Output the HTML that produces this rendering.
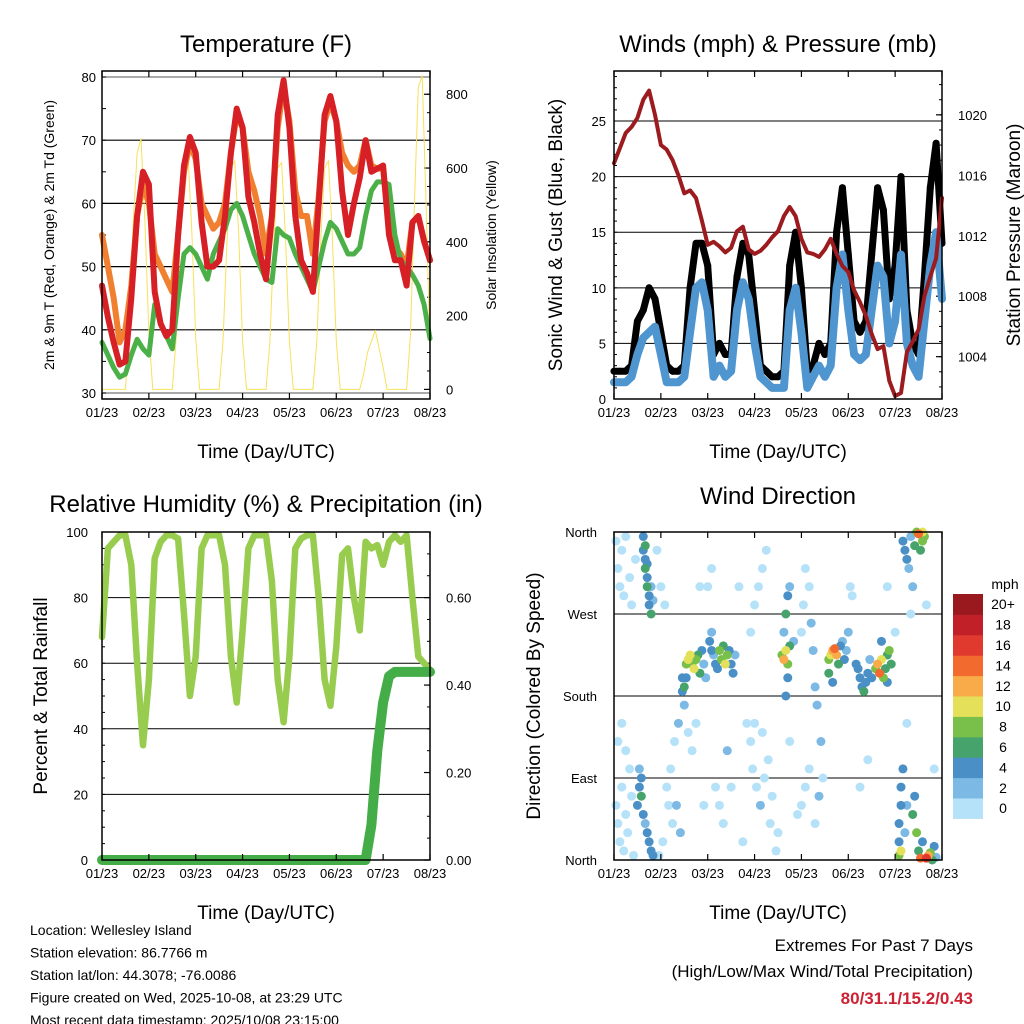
<!DOCTYPE html>
<html><head><meta charset="utf-8">
<style>
html,body{margin:0;padding:0;background:#fff;}
svg{display:block;font-family:"Liberation Sans",sans-serif;}
</style></head>
<body>
<svg id="chart" width="1024" height="1024" viewBox="0 0 1024 1024" xmlns="http://www.w3.org/2000/svg"></svg>
<script>
// ---------- data (3-hourly, hour 0 = 01/23) ----------
const xTickLabels = ["01/23","02/23","03/23","04/23","05/23","06/23","07/23","08/23"];
const tempT2 = [47,42,38,34.5,35,45,58,65,63,46,41,39,40,55,66,70.5,68,57,50,50,51,58,68,75,72,61,57,52,48,58,74,79.5,72,58,51,49,46,60,74,77,73,62,55,60,64,70,65,65.5,66,55,51,51,47,57,58,54,51];
const tempT9 = [55,50,45,38,40,47,58,63,60,52,50,48,46,55,65,69.5,67,60,58,56,57,60,68,74,72,65,62,58,52,58,72,78.5,73,62,58,58,52,61,73,76,73,68,66,65,66,70,66,65.5,65.5,56,53,52,50,57,58,54,51];
const tempTd = [38,36,34,32.5,33,36,38.5,37,36,44,41,39,37,45,52,53,52,50,48,52,54,56,59,60,58,55,52,50,48,47.5,56,55,54.5,52,50,48,46,50,54,57,56,54,52,52,53,58,62,63.4,63.4,63,55,51,50,48.7,47,44,38.6];
// solar insolation, 2-hourly
const solar = [0,0,0,0,0,0, 0,150,450,640,680,450,150,0, 0,0,0,0, 0,140,420,600,640,430,140,0, 0,0,0,0, 0,130,400,600,620,420,130,0, 0,0,0,0, 0,130,400,600,615,410,130,0, 0,0,0,0, 0,130,400,600,620,410,130,0, 0,0,0,0, 0,40,100,130,160,110,60,0, 0,0,0,0, 0,150,500,820,850,500,100];
const windSpd = [1.5,1.5,1.5,2,4,5.5,6,6.5,4,1.5,1.5,1.5,2,6,10,10.5,8,2,3,2,2.5,8,10.5,9,5,2,1.5,1,1,1,8,10,6,1,2,3,2,3,10,13,8,4,3.5,4,8,12,11,5,7,13,5,3,2,7,12,15,9];
const windGust = [2.5,2.5,2.5,3,7,8,10,9,6,3,2.5,2.5,3,10,14,14,12,4,5,4,4,11,14,13,8,3,2.5,2,2,2.5,12,15,10,2.5,3,5,4,5,15,19,13,7,6,7,13,19,17,9,12,20,8,5,4,11,19,23,14];
const pressure = [1016.8,1017.8,1018.8,1019.2,1019.8,1021,1021.6,1020,1018,1017.7,1017,1016,1014.8,1015,1014.5,1013,1011.4,1011.6,1011.3,1010.9,1011.2,1012.3,1012.6,1011.1,1010.8,1011,1011.4,1011.9,1012.3,1013.3,1013.9,1013.3,1011.8,1010.9,1010.8,1010.6,1011.1,1011.8,1010.8,1010,1009.6,1008.4,1007.6,1006.7,1005.5,1004.5,1004.7,1002.4,1001.4,1001.6,1004.3,1005,1005.8,1008,1009.3,1010.5,1014.5];
const rh = [68,95,97,99,99,90,60,35,55,92,97,99,99,98,75,50,62,95,99,99,99,90,62,48,70,95,99,99,99,85,55,42,62,95,98,99,99,80,55,47,65,93,95,80,70,97,95,96,90,97,99,97,99,80,62,60,58];
const precip = [0,0,0,0,0,0,0,0,0,0,0,0,0,0,0,0,0,0,0,0,0,0,0,0,0,0,0,0,0,0,0,0,0,0,0,0,0,0,0,0,0,0,0,0,0,0,0.08,0.25,0.36,0.42,0.43,0.43,0.43,0.43,0.43,0.43,0.43];
// wind direction samples
const wdHour = [1,2,3,4,5,6,8,1,2,3,4,5,6,7,9,8,10,2,4,6,9,11,
15,15,16,16,17,17,18,18,19,16,17,19,20,
12,13,14,15,16,17,18,19,20,14,13,
22,24,26,28,30,25,27,29,31,33,32,34,23,
35,36,37,38,39,40,41,42,43,44,45,37,35,46,47,36,38,40,42,
49,50,51,52,53,54,55,56,57,58,59,60,61,62,50,48,50,52,54,56,58,60,
70,72,74,76,78,71,73,75,77,79,81,80,83,70,72,76,84,
86,87,88,89,90,88,89,87,88,89,90,92,
96,97,98,100,101,102,103,104,96,98,100,103,105,107,106,
110,111,112,113,114,115,116,117,118,119,110,112,120,121,122,
124,125,126,127,128,129,130,131,132,
134,135,136,137,138,139,140,141,142,140,137,
146,146,147,147,148,146,147,149,150,153,154,155,156,157,148,149,150,151,152,153,154,155,156,158,159,157,158,160,161,162,163,164,165,158,
140,144,150,152,160,164,130,126,64,66,68,44,46,90,94];
const wdDir = [350,320,300,340,290,355,310,60,40,20,80,10,50,30,70,100,5,130,150,120,280,330,
355,340,330,320,310,300,290,280,270,345,325,300,285,
60,80,70,50,40,30,20,10,5,90,100,
340,300,280,60,40,20,80,100,130,150,60,30,5,
200,190,215,220,225,215,210,220,225,205,230,200,185,215,200,170,140,120,150,
240,230,225,215,210,230,220,235,215,225,230,215,205,225,250,300,320,80,60,40,120,80,
250,280,300,320,340,100,80,60,90,110,70,40,10,130,150,140,30,
225,220,230,215,235,180,200,250,270,290,300,240,
250,280,320,300,260,230,190,170,60,80,100,40,70,90,130,
220,225,230,232,225,215,235,240,220,230,205,195,250,300,290,
215,210,200,190,185,195,205,220,200,
210,215,205,220,200,210,225,230,215,195,240,
20,40,60,80,100,5,10,30,60,50,70,30,10,2,350,340,330,320,355,300,345,360,358,360,355,340,350,2,5,8,0,15,3,20,
300,250,150,270,280,100,110,80,300,20,150,300,60,130,50];
const wdSpd = [0,0,0,0,0,0,0,0,0,0,0,0,0,0,0,0,0,0,0,0,0,0,
4,4,4,6,4,6,4,4,6,6,4,2,2,
4,4,6,4,2,4,4,4,4,4,2,
0,1,0,0,1,0,1,0,1,2,2,2,0,
4,6,8,10,10,9,10,8,6,6,4,4,4,2,2,2,1,1,0,
4,4,3,4,4,8,8,6,10,8,4,4,4,2,2,0,0,0,1,0,2,1,
1,0,0,1,0,0,1,2,1,0,1,0,0,1,0,0,0,
8,12,10,8,6,4,4,3,6,4,2,2,
1,0,1,0,2,3,2,2,1,0,1,0,2,1,2,
8,10,12,14,12,6,4,3,4,3,6,4,2,1,0,
4,4,4,4,6,4,4,2,4,
8,12,14,10,8,6,6,8,6,4,4,
4,4,4,4,4,8,10,2,2,6,4,8,6,14,4,4,4,2,2,2,6,8,14,10,8,6,8,16,12,8,6,4,2,4,
1,0,1,0,0,0,1,0,0,0,1,0,0,0,0];
const spdColors = ["#b5e2f8","#7cb9e4","#4a8fc6","#46a36c","#79c04a","#e5e05a","#f8ab48","#f26a2e","#e03a2e","#c22028","#99191f"];
const cbarLabels = ["0","2","4","6","8","10","12","14","16","18","20+"];

// ---------- helpers ----------
const svg = document.getElementById('chart');
const NS = "http://www.w3.org/2000/svg";
function mk(tag, attrs, parent){
  const e = document.createElementNS(NS, tag);
  for (const k in attrs) e.setAttribute(k, attrs[k]);
  (parent||svg).appendChild(e);
  return e;
}
function txt(x,y,s,size,anchor,parent,extra){
  const t = mk('text',Object.assign({x:x,y:y,'font-size':size,'text-anchor':anchor||'middle',fill:'#000'},extra||{}),parent);
  t.textContent = s;
  return t;
}
function xScaleFor(x0,x1){ return h => x0 + h*(x1-x0)/168; }
function yScaleFor(y0,y1,v0,v1){ return v => y1 - (v-v0)*(y1-y0)/(v1-v0); }

function frame(g,x0,y0,x1,y1){
  const r = mk('rect',{x:x0,y:y0,width:x1-x0,height:y1-y0,fill:'none',stroke:'#000','stroke-width':1.5},g);
  
  
}
function xAxis(g,x0,y0,x1,y1){
  const xs = xScaleFor(x0,x1);
  xTickLabels.forEach((l,i)=>{
    const x = xs(i*24);
    mk('line',{x1:x,y1:y1,x2:x,y2:y1-6,stroke:'#000','stroke-width':1.2},g);
    mk('line',{x1:x,y1:y0,x2:x,y2:y0+6,stroke:'#000','stroke-width':1.2},g);
    const t = txt(x,y1+18,l,13,'middle',g);
    
    
  });
  const at = txt((x0+x1)/2,y1+59,"Time (Day/UTC)",19,'middle',g);
  
  
}
function polyline(g,xs,ys,vals,step,color,w,name){
  let d = '';
  vals.forEach((v,i)=>{ d += (i?'L':'M') + xs(i*step).toFixed(1)+','+ys(v).toFixed(1); });
  const p = mk('path',{d:d,fill:'none',stroke:color,'stroke-width':w,'stroke-linejoin':'round','stroke-linecap':'round'},g);
  
  
  return p;
}

// ================= Panel 1: Temperature =================
(function(){
  const g = mk('g',{});
  
  
  const x0=102,x1=430,y0=71,y1=399;
  const xs = xScaleFor(x0,x1);
  const ys = yScaleFor(y0,y1,29.05,80.95);
  const ysR = yScaleFor(y0,y1,-26,863);
  const tt = txt(266,52,"Temperature (F)",24,'middle',g);
  
  
  [30,40,50,60,70,80].forEach(v=>{
    const y = ys(v);
    mk('line',{x1:x0,y1:y,x2:x1,y2:y,stroke:(v==30||v==80)?'#777':'#000','stroke-width':1.2},g);
    const t = txt(x0-6,y+5,String(v),13,'end',g);
    
    
  });
  for(let v=30;v<=80;v+=5){ mk('line',{x1:x0,y1:ys(v),x2:x0+4,y2:ys(v),stroke:'#000'},g); }
  [0,200,400,600,800].forEach(v=>{
    const y = ysR(v);
    mk('line',{x1:x1,y1:y,x2:x1-6,y2:y,stroke:'#000','stroke-width':1.2},g);
    const t = txt(x1+16,y+5,String(v),13,'start',g);
    
    
  });
  for(let v=0;v<=800;v+=50){ mk('line',{x1:x1,y1:ysR(v),x2:x1-3,y2:ysR(v),stroke:'#000'},g); }
  polyline(g,xs,ysR,solar,2,'#f7e15a',1,'solar-line');
  polyline(g,xs,ys,tempT9,3,'#f08030',6,'t9m-line');
  polyline(g,xs,ys,tempTd,3,'#4bb048',5,'td-line');
  polyline(g,xs,ys,tempT2,3,'#d62026',6,'t2m-line');
  frame(g,x0,y0,x1,y1);
  xAxis(g,x0,y0,x1,y1);
  const yl = txt(0,0,"2m & 9m T (Red, Orange) & 2m Td (Green)",14,'middle',g,{transform:'translate(54,235) rotate(-90)'});
  
  
  const yr = txt(0,0,"Solar Insolation (Yellow)",14,'middle',g,{transform:'translate(496,235) rotate(-90)'});
  
  
})();

// ================= Panel 2: Winds & Pressure =================
(function(){
  const g = mk('g',{});
  
  
  const x0=614,x1=942,y0=71,y1=399;
  const xs = xScaleFor(x0,x1);
  const ys = yScaleFor(y0,y1,0,29.5);
  const ysR = yScaleFor(y0,y1,1001.2,1022.9);
  const tt = txt(778,52,"Winds (mph) & Pressure (mb)",24,'middle',g);
  
  
  [0,5,10,15,20,25].forEach(v=>{
    const y = ys(v);
    mk('line',{x1:x0,y1:y,x2:x1,y2:y,stroke:'#000','stroke-width':1},g);
    const t = txt(x0-8,y+5,String(v),13,'end',g);
    
    
  });
  for(let v=0;v<=29;v+=1){ mk('line',{x1:x0,y1:ys(v),x2:x0+3,y2:ys(v),stroke:'#000'},g); }
  [1004,1008,1012,1016,1020].forEach(v=>{
    const y = ysR(v);
    mk('line',{x1:x1,y1:y,x2:x1-6,y2:y,stroke:'#000','stroke-width':1.2},g);
    const t = txt(x1+16,y+5,String(v),13,'start',g);
    
    
  });
  for(let v=1002;v<=1022;v+=1){ mk('line',{x1:x1,y1:ysR(v),x2:x1-3,y2:ysR(v),stroke:'#000'},g); }
  polyline(g,xs,ys,windGust,3,'#000',7,'gust-line');
  windGust.forEach((v,i)=>{
    const c = mk('circle',{cx:xs(i*3),cy:ys(v),r:3.5,fill:'#000'},g);
    
    
  });
  polyline(g,xs,ys,windSpd,3,'#4f96d0',8,'wind-speed-line');
  polyline(g,xs,ysR,pressure,3,'#9b1b1e',4,'pressure-line');
  frame(g,x0,y0,x1,y1);
  xAxis(g,x0,y0,x1,y1);
  const yl = txt(0,0,"Sonic Wind & Gust (Blue, Black)",19,'middle',g,{transform:'translate(562,235) rotate(-90)'});
  
  
  const yr = txt(0,0,"Station Pressure (Maroon)",19,'middle',g,{transform:'translate(1020,235) rotate(-90)'});
  
  
})();

// ================= Panel 3: RH & Precip =================
(function(){
  const g = mk('g',{});
  
  
  const x0=102,x1=430,y0=532,y1=860;
  const xs = xScaleFor(x0,x1);
  const ys = yScaleFor(y0,y1,0,100);
  const ysR = yScaleFor(y0,y1,0,0.75);
  const tt = txt(266,512,"Relative Humidity (%) & Precipitation (in)",24,'middle',g);
  
  
  [0,20,40,60,80,100].forEach(v=>{
    const y = ys(v);
    mk('line',{x1:x0,y1:y,x2:x1,y2:y,stroke:'#000','stroke-width':1},g);
    const t = txt(x0-14,y+5,String(v),13,'end',g);
    
    
  });
  for(let v=0;v<=100;v+=5){ mk('line',{x1:x0,y1:ys(v),x2:x0+3,y2:ys(v),stroke:'#000'},g); }
  [0,0.2,0.4,0.6].forEach(v=>{
    const y = ysR(v);
    mk('line',{x1:x1,y1:y,x2:x1-6,y2:y,stroke:'#000','stroke-width':1.2},g);
    const t = txt(x1+16,y+5,v.toFixed(2),13,'start',g);
    
    
  });
  for(let v=0;v<=0.75;v+=0.05){ mk('line',{x1:x1,y1:ysR(v),x2:x1-3,y2:ysR(v),stroke:'#000'},g); }
  polyline(g,xs,ys,rh,3,'#98cc4f',6.5,'rh-line');
  polyline(g,xs,ysR,precip,3,'#44ad47',10,'precip-line');
  frame(g,x0,y0,x1,y1);
  xAxis(g,x0,y0,x1,y1);
  const yl = txt(0,0,"Percent & Total Rainfall",19,'middle',g,{transform:'translate(47,696) rotate(-90)'});
  
  
})();

// ================= Panel 4: Wind Direction =================
(function(){
  const g = mk('g',{});
  
  
  const x0=614,x1=942,y0=532,y1=860;
  const xs = xScaleFor(x0,x1);
  const ys = yScaleFor(y0,y1,0,360);
  const tt = txt(778,504,"Wind Direction",24,'middle',g);
  
  
  const dirLabels = ["North","East","South","West","North"];
  dirLabels.forEach((l,i)=>{
    const y = ys(i*90);
    mk('line',{x1:x0,y1:y,x2:x1,y2:y,stroke:'#000','stroke-width':1},g);
    const t = txt(x0-17,y+5,l,13,'end',g);
    
    
  });
  const order = wdHour.map((h,i)=>i).sort((a,b)=>wdSpd[a]-wdSpd[b]);
  order.forEach(i=>{
    const ci = Math.min(10,Math.floor(wdSpd[i]/2));
    const c = mk('circle',{cx:xs(wdHour[i]),cy:ys(wdDir[i]),r:4.5,fill:spdColors[ci]},g);
    
    
  });
  frame(g,x0,y0,x1,y1);
  xAxis(g,x0,y0,x1,y1);
  const yl = txt(0,0,"Direction (Colored By Speed)",19,'middle',g,{transform:'translate(540,696) rotate(-90)'});
  
  
  const cb = mk('g',{},g);
  
  
  const bx=953,bw=30,btop=594,bh=20.4;
  const ut = txt(1005,589,"mph",14,'middle',cb);
  
  
  cbarLabels.forEach((l,i)=>{
    const k = 10-i;
    const y = btop + k*bh;
    const r = mk('rect',{x:bx,y:y,width:bw,height:bh+0.5,fill:spdColors[i]},cb);
    
    
    const t = txt(1003,y+bh/2+5,l,14,'middle',cb);
    
    
  });
})();

// ================= Footer text =================
(function(){
  const g = mk('g',{});
  
  
  const lines = ["Location: Wellesley Island","Station elevation: 86.7766 m","Station lat/lon: 44.3078; -76.0086","Figure created on Wed, 2025-10-08, at 23:29 UTC","Most recent data timestamp: 2025/10/08 23:15:00"];
  lines.forEach((l,i)=>{
    const t = txt(30,935+i*22.5,l,14,'start',g);
    
    
  });
  const g2 = mk('g',{});
  
  
  const a = txt(973,951,"Extremes For Past 7 Days",17,'end',g2);
  
  
  const b = txt(973,977,"(High/Low/Max Wind/Total Precipitation)",17,'end',g2);
  
  
  const c = txt(973,1004,"80/31.1/15.2/0.43",17,'end',g2,{fill:'#cc2233','font-weight':'bold'});
  
  
})();
</script>
</body></html>
